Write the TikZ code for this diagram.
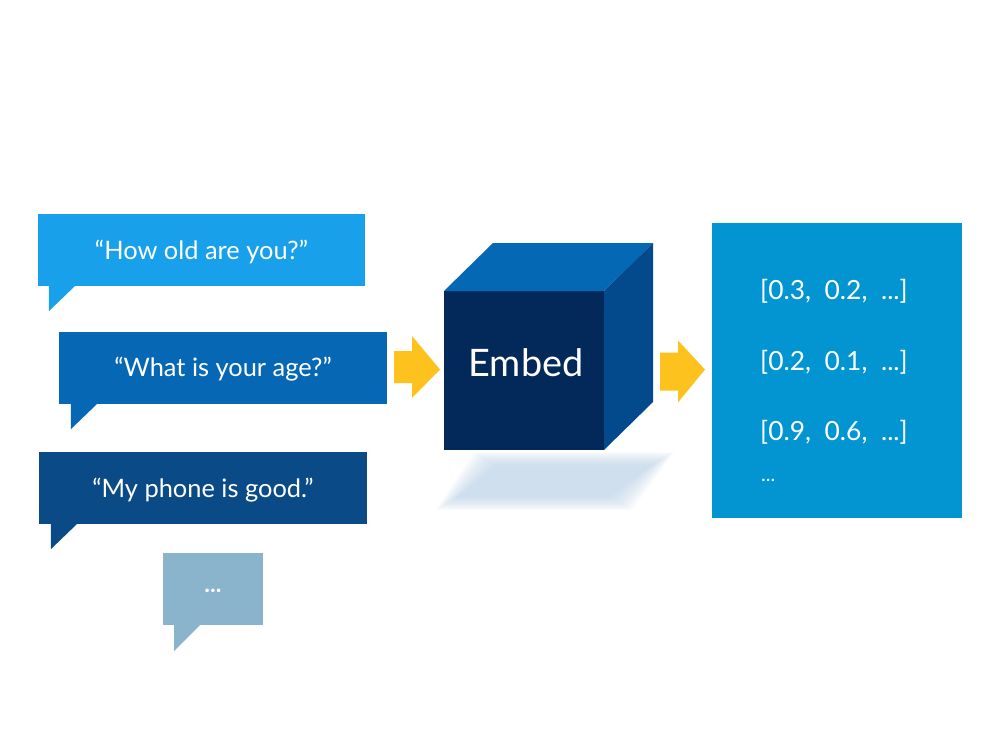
\documentclass[tikz,border=0pt]{standalone}
\usepackage{fontspec}
\setmainfont{Lato}
\usetikzlibrary{calc}
\definecolor{bubA}{RGB}{24,160,235}
\definecolor{bubB}{RGB}{6,104,181}
\definecolor{bubC}{RGB}{10,74,134}
\definecolor{bubD}{RGB}{138,180,204}
\definecolor{cubeFront}{RGB}{2,41,90}
\definecolor{cubeTop}{RGB}{4,104,180}
\definecolor{cubeSide}{RGB}{3,74,140}
\definecolor{vecBox}{RGB}{2,149,210}
\definecolor{arrowY}{RGB}{254,194,30}
\definecolor{shadowC}{RGB}{185,210,232}
\tikzset{
  bubble/.style={inner sep=0pt, outer sep=0pt},
  bubtxt/.style={text=white, inner sep=0pt, font=\fontsize{25.5}{30}\selectfont},
  arrowshape/.style={fill=arrowY},
  vectxt/.style={text=white, anchor=west, inner sep=0pt, font=\fontsize{26.5}{31}\selectfont},
}
\begin{document}
\begin{tikzpicture}[x=1bp,y=-1bp]
\useasboundingbox[fill=white] (0,0) rectangle (999,749);

% bubble 1
\node[bubble, fill=bubA, minimum width=327bp, minimum height=72bp] (q1) at (201.5,250) {};
\node[bubtxt] (l1) at ($(q1.center)+(0,2)$) {“How old are you?”};
\fill[bubA] ($(q1.south west)+(11,0)$) coordinate (t1) -- ++(0,25) -- ($(t1)+(26,0)$) -- cycle;

% bubble 2
\node[bubble, fill=bubB, minimum width=328bp, minimum height=72bp] (q2) at (223,368) {};
\node[bubtxt] (l2) at ($(q2.center)+(0,1)$) {“What is your age?”};
\fill[bubB] ($(q2.south west)+(12,0)$) coordinate (t2) -- ++(0,25) -- ($(t2)+(26,0)$) -- cycle;

% bubble 3
\node[bubble, fill=bubC, minimum width=328bp, minimum height=72bp] (q3) at (203,488) {};
\node[bubtxt] (l3) at ($(q3.center)+(0,2)$) {“My phone is good.”};
\fill[bubC] ($(q3.south west)+(12,0)$) coordinate (t3) -- ++(0,25) -- ($(t3)+(26,0)$) -- cycle;

% bubble 4
\node[bubble, fill=bubD, minimum width=100bp, minimum height=72bp] (q4) at (213,589) {};
\node[bubtxt, font=\bfseries\fontsize{24}{26}\selectfont] (l4) at ($(q4.center)+(0,2)$) {...};
\fill[bubD] ($(q4.south west)+(11,0)$) coordinate (t4) -- ++(0,26) -- ($(t4)+(26,0)$) -- cycle;

% soft shadow under cube
\foreach \i in {0,2,...,22} {
  \fill[shadowC, opacity=0.075] (474+\i,452+0.6*\i) -- (674-\i,452+0.6*\i) -- (632-\i,510-0.6*\i) -- (436+\i,510-0.6*\i) -- cycle;
}

% cube
\node[fill=cubeFront, minimum width=160bp, minimum height=159bp, inner sep=0pt, outer sep=0pt] (cube) at (524,370.5) {};
\fill[cubeTop] (cube.north west) -- ++(49,-48) -- ($(cube.north east)+(49,-48)$) -- (cube.north east) -- cycle;
\fill[cubeSide] (cube.north east) -- ++(49,-48) -- ($(cube.south east)+(49,-48)$) -- (cube.south east) -- cycle;
\node[text=white, inner sep=0pt, font=\fontsize{38}{44}\selectfont] (embed) at ($(cube.center)+(2,-8)$) {Embed};

% vector box
\node[fill=vecBox, minimum width=250bp, minimum height=295bp, inner sep=0pt, outer sep=0pt] (vec) at (837,370.5) {};
\node[vectxt] (v1) at (760,291) {[0.3,\ \ 0.2,\ \ ...]};
\node[vectxt] (v2) at (760,362) {[0.2,\ \ 0.1,\ \ ...]};
\node[vectxt] (v3) at (760,432) {[0.9,\ \ 0.6,\ \ ...]};
\node[vectxt, font=\fontsize{20}{22}\selectfont] (v4) at (761,480) {...};

% arrows
\fill[arrowshape] ($(q2.east)+(7,-17)$) coordinate (a1) -- ++(18,0) -- ++(0,-15) -- ($(cube.west)+(-4,-1)$) -- ($(a1)+(18,47)$) -- ++(0,-15) -- ++(-18,0) -- cycle;
\fill[arrowshape] ($(cube.east)+(56,-18)$) coordinate (a2) -- ++(18,0) -- ++(0,-12) -- ($(vec.west)+(-7,-1)$) -- ($(a2)+(18,50)$) -- ++(0,-12) -- ++(-18,0) -- cycle;
\end{tikzpicture}
\end{document}
